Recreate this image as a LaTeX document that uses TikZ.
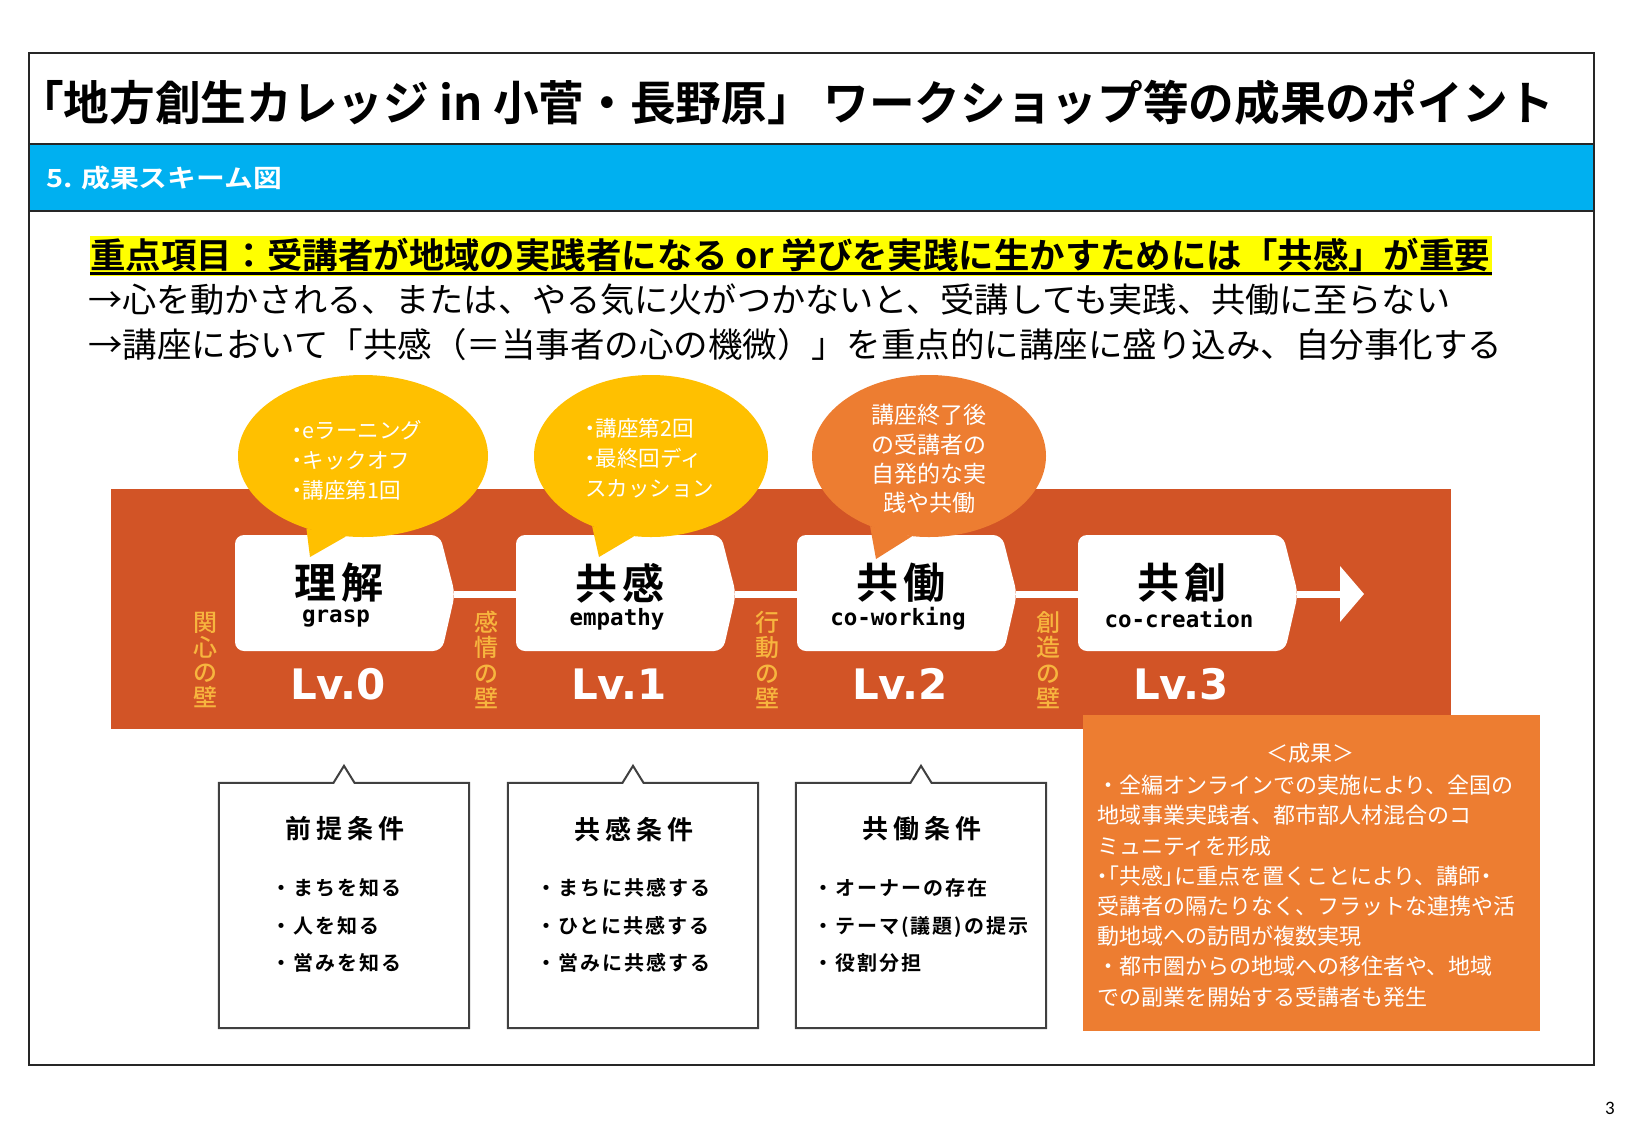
\documentclass[tikz,border=0pt]{standalone}
\usepackage{fontspec}
\usetikzlibrary{shapes.geometric}
\setmainfont{Noto Sans CJK JP}[BoldFont={Noto Sans CJK JP Bold}]
\newfontfamily\jpb{Noto Sans CJK JP Bold}
\newfontfamily\jpbls{Noto Sans CJK JP Bold}[LetterSpace=20]
\newfontfamily\jpbit{Noto Sans CJK JP Bold}[LetterSpace=10]
\newfontfamily\jpbkj{Noto Sans CJK JP Bold}[LetterSpace=12]
\newfontfamily\jpm{Noto Sans CJK JP Medium}
\newfontfamily\jpp{Noto Sans CJK JP}[RawFeature=+palt]
\newfontfamily\monob{DejaVu Sans Mono Bold}
\newfontfamily\lvf{DejaVu Sans Bold}
\newfontfamily\pgn{Carlito}
\newcommand\mydot{{\jpp ・}}
\definecolor{bandc}{RGB}{210,84,38}
\definecolor{goldc}{RGB}{255,192,0}
\definecolor{orangec}{RGB}{237,125,49}
\definecolor{wallc}{RGB}{247,181,62}
\definecolor{bluec}{RGB}{0,176,240}
\definecolor{framec}{RGB}{38,38,38}
\definecolor{boxline}{RGB}{64,64,64}
\definecolor{hlc}{RGB}{255,255,0}
\tikzset{
  conn/.style={draw=white, line width=7pt},
  kanjit/.style={inner sep=0pt, font=\jpbkj\fontsize{42}{46}\selectfont},
  ent/.style={inner sep=0pt, font=\monob\fontsize{22.5}{24}\selectfont},
  lvt/.style={inner sep=0pt, text=white, font=\lvf\fontsize{42}{44}\selectfont},
  wall/.style={inner sep=0pt, text=wallc, align=center, font=\jpm\fontsize{24}{25.3}\selectfont},
  bubble/.style={ellipse, inner sep=0pt, minimum height=162pt},
  btext/.style={inner sep=0pt, text=white, align=left, font=\fontsize{21.5}{30}\selectfont},
  condbox/.style={inner sep=0pt, minimum width=250pt, minimum height=245pt},
  condline/.style={draw=boxline, line width=2pt, line join=miter},
  condtitle/.style={inner sep=0pt, font=\jpbls\fontsize{26}{28}\selectfont},
  conditem/.style={inner sep=0pt, align=left, font=\jpbit\fontsize{20}{37.5}\selectfont},
  restext/.style={inner sep=0pt, text=white, align=left, font=\fontsize{22}{30.2}\selectfont},
}
\begin{document}
\begin{tikzpicture}[x=1pt,y=-1pt]
\useasboundingbox (0,0) rectangle (1625,1125);
\fill[white] (0,0) rectangle (1625,1125);
% header
\fill[bluec] (29,144) rectangle (1594,211);
\draw[framec, line width=2.5pt] (29,53) rectangle (1594,1065);
\draw[framec, line width=2.5pt] (29,144) -- (1594,144);
\draw[framec, line width=2.5pt] (29,211) -- (1594,211);
\node[anchor=west, inner sep=0pt] (title) at (18,103)
  {\jpb\fontsize{47}{50}\selectfont\resizebox{1536pt}{\height}{「地方創生カレッジ in 小菅・長野原」 ワークショップ等の成果のポイント}};
\node[anchor=west, inner sep=0pt, text=white] (sec) at (46,178)
  {\jpb\fontsize{25}{28}\selectfont\resizebox{236pt}{\height}{5. 成果スキーム図}};
% key lines
\fill[hlc] (90,236) rectangle (1492,276);
\node[anchor=west, inner sep=0pt] (key1) at (90,255)
  {\jpb\fontsize{35}{38}\selectfont\resizebox{1400pt}{\height}{重点項目：受講者が地域の実践者になる or 学びを実践に生かすためには「共感」が重要}};
\draw[black, line width=3pt] (90,273) -- (1492,273);
\node[anchor=west, inner sep=0pt] (key2) at (88,300)
  {\fontsize{34}{38}\selectfont\resizebox{1362pt}{\height}{→心を動かされる、または、やる気に火がつかないと、受講しても実践、共働に至らない}};
\node[anchor=west, inner sep=0pt] (key3) at (88,345)
  {\fontsize{34}{38}\selectfont\resizebox{1414pt}{\height}{→講座において「共感（＝当事者の心の機微）」を重点的に講座に盛り込み、自分事化する}};
% band
\node[fill=bandc, minimum width=1340pt, minimum height=240pt, inner sep=0pt] (band) at (781,609) {};
% stage boxes
\foreach \i/\L/\kj/\en/\lv/\wa/\wb in {1/235/理解/grasp/0/関/心, 2/516/共感/empathy/1/感/情, 3/797/共働/co-working/2/行/動, 4/1078/共創/co-creation/3/創/造}{
  \fill[white, rounded corners=9pt] (\L,535) -- (\L+205,535) -- (\L+220,594) -- (\L+207,651) -- (\L,651) -- cycle;
  \coordinate (in\i) at (\L,594);
  \coordinate (out\i) at (\L+219,594);
  \node[kanjit] (kj\i) at (\L+104,583) {\kj};
  \node[ent] (en\i) at (\L+101,619) {\en};
  \node[lvt] (lv\i) at (\L+103,684) {Lv.\lv};
  \node[wall] (w\i) at (\L-29.5,660) {\wa\\\wb\\の\\壁};
}
\draw[conn] (out1) -- (in2);
\draw[conn] (out2) -- (in3);
\draw[conn] (out3) -- (in4);
\coordinate (abase) at (1340,594);
\coordinate (atip) at (1364,594);
\draw[conn] (out4) -- (abase);
\fill[white] ([yshift=28pt]abase) -- (atip) -- ([yshift=-28pt]abase) -- cycle;
% bubbles
\node[bubble, fill=goldc, minimum width=250pt] (b1) at (363,456) {};
\coordinate (t1) at (310,557);
\fill[goldc] (b1.232) -- (t1) -- (b1.258) -- cycle;
\node[bubble, fill=goldc, minimum width=234pt] (b2) at (651,456) {};
\coordinate (t2) at (599,557);
\fill[goldc] (b2.230) -- (t2) -- (b2.258) -- cycle;
\node[bubble, fill=orangec, minimum width=234pt] (b3) at (929,456) {};
\coordinate (t3) at (876,559);
\fill[orangec] (b3.230) -- (t3) -- (b3.258) -- cycle;
\node[btext, anchor=west] (bt1) at (292,460) {\mydot eラーニング\\\mydot キックオフ\\\mydot 講座第1回};
\node[btext, anchor=west] (bt2) at (585,458) {\mydot 講座第2回\\\mydot 最終回ディ\\スカッション};
\node[btext, align=center, font=\fontsize{23}{29.3}\selectfont] (bt3) at (929,459) {講座終了後\\の受講者の\\自発的な実\\践や共働};
% condition boxes
\foreach \n/\cx/\ttl/\ix/\items in {
  A/344/前提条件/271/{・まちを知る\\・人を知る\\・営みを知る},
  B/633/共感条件/536/{・まちに共感する\\・ひとに共感する\\・営みに共感する},
  C/921/共働条件/813/{・オーナーの存在\\・テーマ(議題)の提示\\・役割分担}}{
  \node[condbox] (c\n) at (\cx,905.5) {};
  \draw[condline] (c\n.north west) -- ([xshift=-10.5pt]c\n.north) -- ([yshift=17pt]c\n.north)
     -- ([xshift=10.5pt]c\n.north) -- (c\n.north east) -- (c\n.south east) -- (c\n.south west) -- cycle;
  \node[condtitle] (ct\n) at (\cx+1,829) {\ttl};
  \node[conditem, anchor=west] (ci\n) at (\ix,925.5) {\items};
}
% result box
\node[fill=orangec, minimum width=457pt, minimum height=316pt, inner sep=0pt] (res) at (1311.5,873) {};
\node[inner sep=0pt, text=white, font=\fontsize{22}{26}\selectfont] (reshead) at (1310,753) {＜成果＞};
\node[restext, anchor=west] (resbody) at (1097,891) {・全編オンラインでの実施により、全国の\\地域事業実践者、都市部人材混合のコ\\ミュニティを形成\\{\jpp ・「共感」}に重点を置くことにより、講師{\jpp ・}\\受講者の隔たりなく、フラットな連携や活\\動地域への訪問が複数実現\\・都市圏からの地域への移住者や、地域\\での副業を開始する受講者も発生};
% page number
\node[inner sep=0pt, font=\pgn\fontsize{19}{22}\selectfont] (pg) at (1610,1108) {3};
\end{tikzpicture}
\end{document}
